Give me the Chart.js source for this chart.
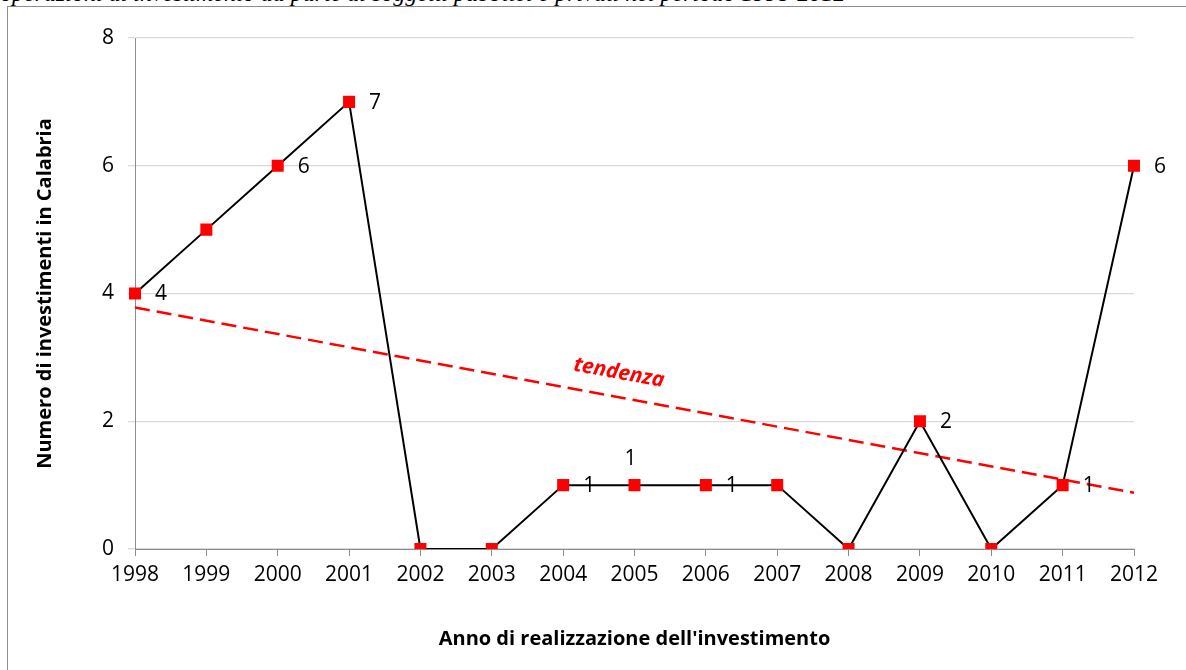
<!DOCTYPE html>
<html>
<head>
<meta charset="utf-8">
<script src="https://cdn.jsdelivr.net/npm/chart.js@4.4.1/dist/chart.umd.min.js"></script>
<style>
  html, body { margin: 0; padding: 0; background: #fff; width: 1186px; height: 670px; overflow: hidden; }
  #frame { position: absolute; left: 7px; top: 6px; width: 1300px; height: 800px; border: 1px solid #8c8c8c; box-sizing: border-box; }
  #caption { position: absolute; left: 0px; top: -20px; font-family: "Liberation Serif", serif; font-style: italic; font-size: 24px; line-height: 26px; white-space: nowrap; color: #000; }
  #wrap { position: absolute; left: 0; top: 0; width: 1186px; height: 670px; }
</style>
</head>
<body>
<div id="caption">operazioni di investimento da parte di soggetti pubblici e privati nel periodo 1998-2012</div>
<div id="frame"></div>
<div id="wrap"><canvas id="c" width="1186" height="670"></canvas></div>
<script>
// ---- data ----
const years = ['1998','1999','2000','2001','2002','2003','2004','2005','2006','2007','2008','2009','2010','2011','2012'];
const investimenti = [4, 5, 6, 7, 0, 0, 1, 1, 1, 1, 0, 2, 0, 1, 6];
// linear trend: start and end values
const trendStart = 3.78;
const trendEnd = 0.88;
const yTicks = [0, 2, 4, 6, 8];
// which points carry a value label, and where
const labelPlacement = ['right', null, 'right', 'right', null, null, 'right', 'above', 'right', null, null, 'right', null, 'right', 'right'];

const trendData = years.map((_, i) => i === 0 ? trendStart : (i === years.length - 1 ? trendEnd : null));

const FONT = '"Open Sans", "DejaVu Sans", sans-serif';

const labelsPlugin = {
  id: 'valueLabels',
  afterDatasetsDraw(chart) {
    const ctx = chart.ctx;
    const meta = chart.getDatasetMeta(1);
    ctx.save();
    ctx.font = '21px ' + FONT;
    ctx.fillStyle = '#000';
    ctx.textBaseline = 'middle';
    ctx.textAlign = 'center';
    meta.data.forEach((pt, i) => {
      const p = labelPlacement[i];
      if (!p) return;
      const v = String(investimenti[i]);
      if (p === 'right') ctx.fillText(v, pt.x + 26, pt.y + 1);
      else if (p === 'above') ctx.fillText(v, pt.x - 4, pt.y - 26);
    });
    // trend label
    const tm = chart.getDatasetMeta(0).data;
    const a = tm[0], b = tm[tm.length - 1];
    const ang = Math.atan2(b.y - a.y, b.x - a.x);
    const t = 0.48;
    const lx = a.x + (b.x - a.x) * t;
    const ly = a.y + (b.y - a.y) * t;
    ctx.translate(lx + Math.sin(ang) * 24, ly - Math.cos(ang) * 24);
    ctx.rotate(ang);
    ctx.font = 'italic bold 21px ' + FONT;
    ctx.fillStyle = '#ff0000';
    ctx.fillText('tendenza', 0, 0);
    ctx.restore();
  }
};

new Chart(document.getElementById('c'), {
  type: 'line',
  data: {
    labels: years,
    datasets: [
      {
        label: 'tendenza',
        data: trendData,
        spanGaps: true,
        borderColor: '#ff0000',
        borderWidth: 2.5,
        borderDash: [15, 7],
        pointRadius: 0,
        fill: false,
        order: 2
      },
      {
        label: 'Numero di investimenti',
        data: investimenti,
        borderColor: '#000000',
        borderWidth: 2,
        pointStyle: 'rect',
        pointRadius: 8.5,
        pointHoverRadius: 8.5,
        pointBackgroundColor: '#ff0000',
        pointBorderWidth: 0,
        pointBorderColor: '#ff0000',
        tension: 0,
        fill: false,
        order: 1
      }
    ]
  },
  options: {
    responsive: false,
    animation: false,
    events: [],
    layout: { padding: { left: 0, top: 38, right: 52, bottom: 0 } },
    plugins: { legend: { display: false }, tooltip: { enabled: false } },
    scales: {
      x: {
        offset: false,
        grid: { drawOnChartArea: false, drawTicks: true, tickLength: 7, color: '#8c8c8c', lineWidth: 1 },
        border: { color: '#8c8c8c', width: 1 },
        ticks: { color: '#000', font: { family: FONT, size: 21 }, padding: 6, maxRotation: 0, autoSkip: false },
        title: { display: true, text: "Anno di realizzazione dell'investimento", color: '#000', font: { family: FONT, size: 20, weight: 'bold' }, padding: { top: 0, bottom: 19 } },
        afterFit(s) { s.height = 121; }
      },
      y: {
        min: 0, max: 8,
        afterBuildTicks(s) { s.ticks = yTicks.map(v => ({ value: v })); },
        grid: { color: '#d9d9d9', drawTicks: true, tickLength: 7, lineWidth: 1.3 },
        border: { color: '#8c8c8c', width: 1 },
        ticks: { color: '#000', font: { family: FONT, size: 21 }, padding: 14 },
        title: { display: true, text: 'Numero di investimenti in Calabria', color: '#000', font: { family: FONT, size: 20, weight: 'bold' }, padding: { top: 33, bottom: 0 } },
        afterFit(s) { s.width = 135; }
      }
    }
  },
  plugins: [labelsPlugin]
});
</script>
</body>
</html>
